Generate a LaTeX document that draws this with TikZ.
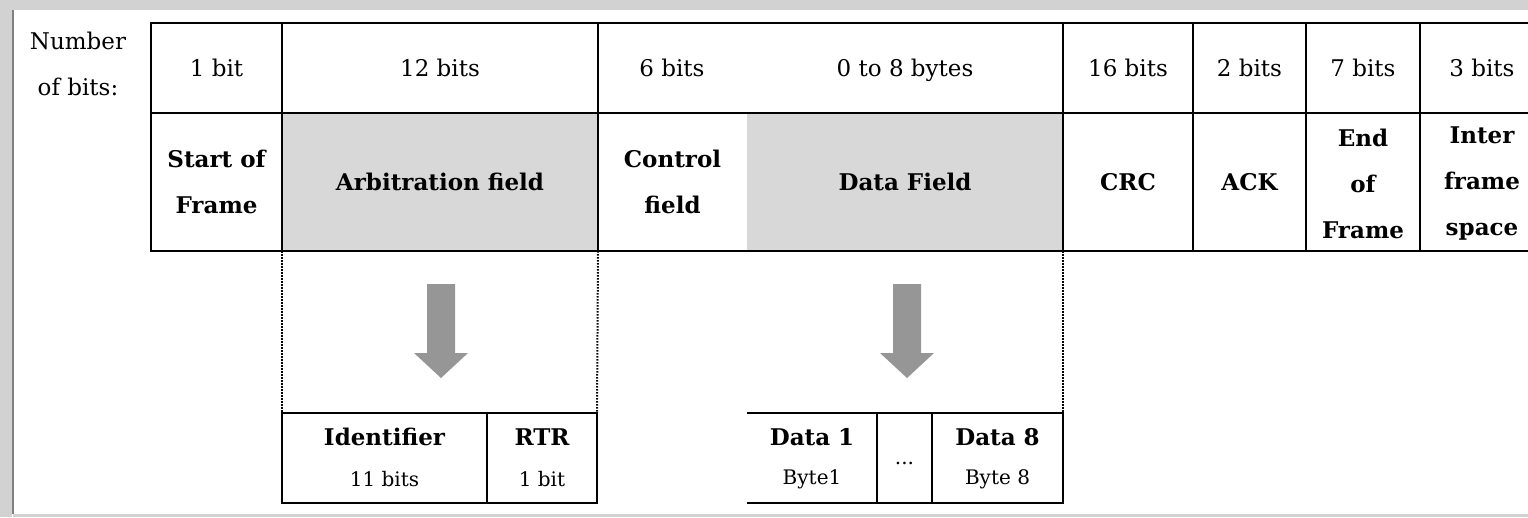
\documentclass[tikz,border=0pt]{standalone}
\usepackage{fontspec}
\setmainfont{DejaVu Serif}
\definecolor{cellgray}{RGB}{216,216,216}
\definecolor{arrowgray}{RGB}{150,150,150}
\definecolor{framegray}{RGB}{210,210,210}
\begin{document}
\begin{tikzpicture}[x=1pt,y=-1pt,
  every node/.style={font=\fontsize{23}{46}\selectfont},
  cell/.style={draw=black, line width=2pt, inner sep=0pt, outer sep=0pt, anchor=north west, align=center},
  plain/.style={inner sep=0pt, outer sep=0pt, anchor=north west, align=center},
  lbl/.style={inner sep=0pt, align=center},
  bfl/.style={inner sep=0pt, align=center, font=\fontsize{23}{46}\bfseries\selectfont},
  sub/.style={inner sep=0pt, align=center, font=\fontsize{20}{24}\selectfont},
  subb/.style={inner sep=0pt, align=center, font=\fontsize{23}{24}\bfseries\selectfont},
  dots/.style={line width=2pt, dash pattern=on 1.5pt off 1.5pt},
  blockarrow/.style={fill=arrowgray, draw=none},
  sline/.style={line width=2pt}]
\useasboundingbox (0,0) rectangle (1528,517);
\clip (0,0) rectangle (1528,517);
% frame
\fill[framegray] (0,0) rectangle (1528,10);
\fill[framegray] (0,0) rectangle (12,517);
\draw[gray, line width=1.5pt] (13,10) -- (13,514);
\fill[framegray] (13,514) rectangle (1528,517);

% label
\node[lbl] (nb) at (78,64) {Number\\of bits:};

% top row
\node[cell, minimum width=131, minimum height=90] (t1) at (151,23) {1 bit};
\node[cell, minimum width=316, minimum height=90] (t2) at (282,23) {12 bits};
\node[cell, minimum width=465, minimum height=90] (t3) at (598,23) {};
\node[cell, minimum width=130, minimum height=90] (t4) at (1063,23) {16 bits};
\node[cell, minimum width=113, minimum height=90] (t5) at (1193,23) {2 bits};
\node[cell, minimum width=114, minimum height=90] (t6) at (1306,23) {7 bits};
\node[cell, minimum width=124, minimum height=90] (t7) at (1420,23) {3 bits};
\node[lbl] (t3a) at (672,68) {6 bits};
\coordinate (xb) at (905,0);
\node[lbl, anchor=base] (t3b) at (t3a.base -| xb) {0 to 8 bytes};

% bottom row
\node[cell, minimum width=131, minimum height=138] (f1) at (151,113) {};
\node[cell, fill=cellgray, minimum width=316, minimum height=138] (f2) at (282,113) {};
\node[plain, minimum width=149, minimum height=138] (f3) at (598,113) {};
\node[plain, fill=cellgray, minimum width=316, minimum height=138] (f4) at (747,113) {};
\draw[sline] (f3.north west) rectangle (f4.south east);
\node[cell, minimum width=130, minimum height=138] (f5) at (1063,113) {};
\node[cell, minimum width=113, minimum height=138] (f6) at (1193,113) {};
\node[cell, minimum width=114, minimum height=138] (f7) at (1306,113) {};
\node[cell, minimum width=124, minimum height=138] (f8) at (1420,113) {};

\node[bfl] at (f1.center) {Start of\\Frame};
\node[bfl] at (f2.center) {Arbitration field};
\node[bfl] at (f3.center) {Control\\field};
\node[bfl] at (f4.center) {Data Field};
\node[bfl] at (f5.center) {CRC};
\node[bfl] at (f6.center) {ACK};
\node[bfl] at ([yshift=-2]f7.center) {End\\of\\Frame};
\node[bfl] at ([yshift=-2]f8.center) {Inter\\frame\\space};

% sub boxes
\node[cell, minimum width=205, minimum height=90] (id) at (282,413) {};
\node[cell, minimum width=110, minimum height=90] (rtr) at (487,413) {};
\node[subb] at ([yshift=21]id.center) {Identifier};
\node[sub] at ([yshift=-21]id.center) {11 bits};
\node[subb] at ([yshift=21]rtr.center) {RTR};
\node[sub] at ([yshift=-21]rtr.center) {1 bit};

\node[plain, minimum width=130, minimum height=90] (d1) at (747,413) {};
\node[cell, minimum width=55, minimum height=90] (dd) at (877,413) {};
\node[cell, minimum width=131, minimum height=90] (d8) at (932,413) {};
\draw[sline] (d1.north west) -- (dd.north west);
\draw[sline] (d1.south west) -- (dd.south west);
\node[subb] at ([yshift=21]d1.center) {Data 1};
\node[sub] at ([yshift=-21]d1.center) {Byte1};
\node[sub] at ([yshift=-5]dd.center) {...};
\node[subb] at ([yshift=21]d8.center) {Data 8};
\node[sub] at ([yshift=-21]d8.center) {Byte 8};

% dotted guides
\draw[dots] (f2.south west) -- (id.north west);
\draw[dots] (f3.south west) -- (rtr.north east);
\draw[dots] (f4.south east) -- (d8.north east);

% block arrows
\coordinate (a1) at (441,284);
\coordinate (a2) at (907,284);
\foreach \a in {a1,a2}{
  \fill[blockarrow] ([xshift=-14]\a) -- ([xshift=14]\a) -- ([xshift=14,yshift=-69]\a) -- ([xshift=27,yshift=-69]\a)
    -- ([yshift=-94]\a) -- ([xshift=-27,yshift=-69]\a) -- ([xshift=-14,yshift=-69]\a) -- cycle;
}
\end{tikzpicture}
\end{document}
